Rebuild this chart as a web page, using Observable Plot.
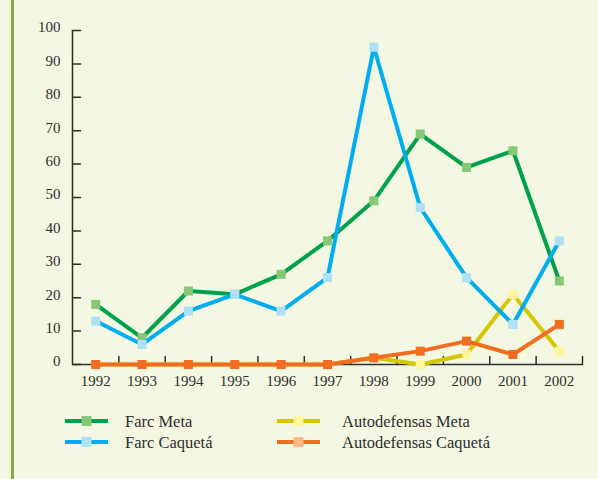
<!DOCTYPE html>
<html><head><meta charset="utf-8">
<script src="https://cdn.jsdelivr.net/npm/d3@7"></script>
<script src="https://cdn.jsdelivr.net/npm/@observablehq/plot@0.6"></script>
<style>
html,body{margin:0;padding:0;background:#F4F8E2;}
#wrap{position:relative;width:598px;height:479px;overflow:hidden;background:#F4F8E2;}
#border{position:absolute;left:11px;top:0;width:3px;height:479px;background:#8DA84A;}
#chart{position:absolute;left:0;top:0;}
#legend{position:absolute;left:0;top:400px;}
</style></head><body>
<div id="wrap"><div id="border"></div><div id="chart"></div><div id="legend"></div></div>
<script>
const years = [1992, 1993, 1994, 1995, 1996, 1997, 1998, 1999, 2000, 2001, 2002];
const yTicks = [0, 10, 20, 30, 40, 50, 60, 70, 80, 90, 100];
const farcMeta = [18, 8, 22, 21, 27, 37, 49, 69, 59, 64, 25];
const farcCaqueta = [13, 6, 16, 21, 16, 26, 95, 47, 26, 12, 37];
const autoMeta = [0, 0, 0, 0, 0, 0, 2, 0, 3, 21, 4];
const autoCaqueta = [0, 0, 0, 0, 0, 0, 2, 4, 7, 3, 12];
const seriesNames = ["Farc Meta", "Farc Caquetá", "Autodefensas Meta", "Autodefensas Caquetá"];
const seriesValues = [farcMeta, farcCaqueta, autoMeta, autoCaqueta];
const lineColors = ["#00A14B", "#00AEEF", "#D4C600", "#F26C21"];
const markerColors = ["#86C878", "#AEE0F8", "#FFF59A", "#F26C21"];
const legendMarkerColors = ["#86C878", "#AEE0F8", "#FFF59A", "#F9B98A"];
const drawOrder = [0, 2, 3, 1];

const FONT = "'Liberation Serif', 'Times New Roman', serif";
const INK = "#2E2E2E";

const rows = seriesValues.map((vals, k) => years.map((yr, i) => ({year: yr, value: vals[i], series: seriesNames[k]})));
const bounds = years.map(y => y + 0.5);
const xMin = years[0] - 0.5;

const tickShape = {draw(context, l) { context.moveTo(0, 0); context.lineTo(0, -l); }};

const seriesMarks = drawOrder.flatMap(k => [
  Plot.line(rows[k], {x: "year", y: "value", stroke: lineColors[k], strokeWidth: 4, strokeLinejoin: "miter"}),
  Plot.dot(rows[k], {x: "year", y: "value", symbol: "square", r: 5.1, fill: markerColors[k], stroke: "none"})
]);

const chart = Plot.plot({
  width: 598,
  height: 400,
  marginLeft: 72,
  marginRight: 16,
  marginTop: 30,
  marginBottom: 36,
  style: {background: "transparent", fontFamily: FONT, fontSize: "15px", color: INK},
  x: {domain: [xMin, years[years.length - 1] + 0.5], axis: null},
  y: {domain: [0, 100], axis: null},
  marks: [
    Plot.vector(yTicks, {x: () => xMin, y: d => d, length: 8, rotate: 90, anchor: "start", shape: tickShape, stroke: INK, strokeWidth: 1.5}),
    Plot.vector(bounds, {x: d => d, y: () => 0, length: 8, rotate: 0, anchor: "start", shape: tickShape, stroke: INK, strokeWidth: 1.5}),
    Plot.axisY(yTicks, {tickSize: 0, tickPadding: 12, dy: -3, fill: INK, fontSize: 15, label: null}),
    Plot.axisX(years, {tickSize: 0, tickPadding: 11, tickFormat: d => String(d), fill: INK, fontSize: 15, label: null}),
    Plot.ruleX([xMin], {stroke: INK, strokeWidth: 1.5}),
    Plot.ruleY([0], {stroke: INK, strokeWidth: 1.5}),
    ...seriesMarks
  ]
});
document.getElementById("chart").appendChild(chart);

// legend
const lg = d3.select("#legend").append("svg").attr("width", 598).attr("height", 79);
const legendPos = [
  {x: 65, y: 21}, {x: 65, y: 42}, {x: 277, y: 21}, {x: 277, y: 42}
];
const textOffset = [60, 60, 65, 65];
seriesNames.forEach((name, k) => {
  const p = legendPos[k];
  const g = lg.append("g");
  g.append("line").attr("x1", p.x).attr("x2", p.x + 43).attr("y1", p.y).attr("y2", p.y)
    .attr("stroke", lineColors[k]).attr("stroke-width", 4);
  g.append("rect").attr("x", p.x + 16.5).attr("y", p.y - 5).attr("width", 10).attr("height", 10)
    .attr("fill", legendMarkerColors[k]);
  g.append("text").attr("x", p.x + textOffset[k]).attr("y", p.y).attr("dy", "0.35em")
    .attr("font-family", FONT).attr("font-size", 16.5).attr("fill", INK).text(name);
});
</script>
</body></html>
